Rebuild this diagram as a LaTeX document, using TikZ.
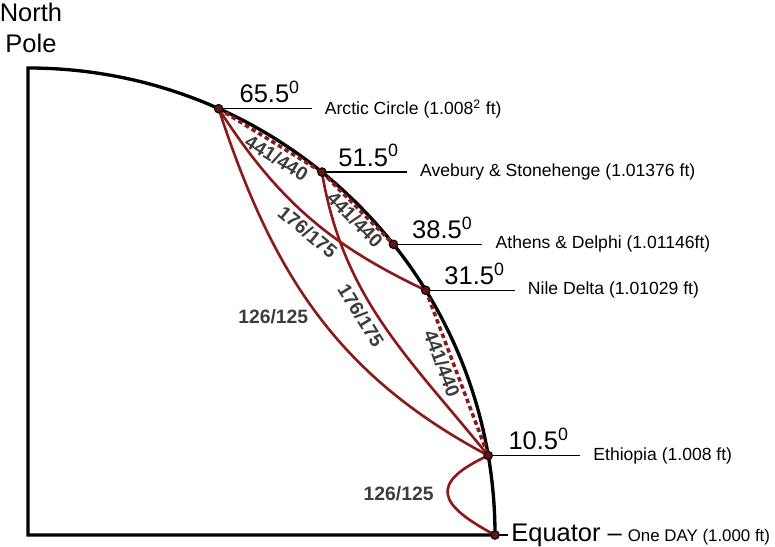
\documentclass[tikz,border=0pt]{standalone}
\usepackage{fontspec}
\setmainfont{Liberation Sans}
\definecolor{curvered}{RGB}{139,26,26}
\definecolor{ratiogray}{RGB}{60,60,60}
\tikzset{
	quadrant/.style={line width=1.9pt},
	ratiocurve/.style={curvered, line width=1.5pt},
	ratiodash/.style={curvered, line width=2pt, dash pattern=on 2.6pt off 1.8pt},
	latline/.style={line width=0.85pt},
	citydot/.style={circle, draw=black, fill=curvered!75!black, line width=0.6pt, minimum size=0.17cm, inner sep=0pt},
	bigtext/.style={font=\fontsize{14.5}{17.2}\selectfont},
	degtext/.style={bigtext, inner sep=0pt, above=2.8pt},
	placetext/.style={font=\fontsize{10}{12}\selectfont, right=4pt},
	ratiolabel/.style={text=ratiogray, font=\fontsize{11}{13}\bfseries\selectfont}
}
\begin{document}
\begin{tikzpicture}
	\def\r{9.34}
	\useasboundingbox (-0.56,-0.24) rectangle (14.94,10.70);
	
	%Quadrant of the earth
	\coordinate (O) at (0,0);
	\coordinate (Pole) at (90:\r);
	\coordinate (Eq) at (0:\r);
	\draw[quadrant] (O) -- (Pole) arc (90:0:\r) -- cycle;
	\node[bigtext, align=center, anchor=north, inner sep=0pt] (NP) at (0.06,10.64) {North\\Pole};
	
	%Latitudes
	\coordinate (P655) at (65.9:\r);
	\coordinate (P515) at (51:\r);
	\coordinate (P385) at (38.5:\r);
	\coordinate (P315) at (31.6:\r);
	\coordinate (P105) at (9.8:\r);
	
	%441/440
	\draw[ratiodash] (P655) -- node[ratiolabel, sloped, pos=0.62, inner sep=1.5pt, below] {441/440} (P515);
	\draw[ratiodash] (P515) -- node[ratiolabel, sloped, pos=0.56, inner sep=0.5pt, below] {441/440} (P385);
	\draw[ratiodash] (P315) -- node[ratiolabel, sloped, pos=0.42, inner sep=1pt, below] {441/440} (P105);
	
	%176/175
	\draw[ratiocurve] (P655) to[bend right=16] node[ratiolabel, sloped, pos=0.54, inner sep=2pt, below] {176/175} (P315);
	\draw[ratiocurve] (P515) to[out=-80.4, in=129] node[ratiolabel, sloped, pos=0.44, inner sep=3pt, below] {176/175} (P105);
	
	%126/125
	\draw[ratiocurve] (P655) to[out=-72, in=152] node[ratiolabel, pos=0.51, left=2pt] {126/125} (P105);
	\draw[ratiocurve] (P105) to[out=205, in=152, looseness=2.1] node[ratiolabel, left=4pt] {126/125} (Eq);
	
	%Arctic Circle
	\draw[latline] (P655) -- ++(1.86,0) node[degtext, pos=0.55] {65.5\textsuperscript{0}} coordinate (L655);
	\node[placetext] (T655) at (L655) {Arctic Circle (1.008\textsuperscript{2} ft)};
	
	%Avebury & Stonehenge
	\draw[latline] (P515) -- ++(1.70,0) node[degtext, pos=0.55] {51.5\textsuperscript{0}} coordinate (L515);
	\node[placetext] (T515) at (L515) {Avebury \& Stonehenge (1.01376 ft)};
	
	%Athens & Delphi
	\draw[latline] (P385) -- ++(1.78,0) node[degtext, pos=0.55] {38.5\textsuperscript{0}} coordinate (L385);
	\node[placetext] (T385) at (L385) {Athens \& Delphi (1.01146ft)};
	
	%Nile Delta
	\draw[latline] (P315) -- ++(1.78,0) node[degtext, pos=0.55] {31.5\textsuperscript{0}} coordinate (L315);
	\node[placetext] (T315) at (L315) {Nile Delta (1.01029 ft)};
	
	%Ethiopia
	\draw[latline] (P105) -- ++(1.84,0) node[degtext, pos=0.55] {10.5\textsuperscript{0}} coordinate (L105);
	\node[placetext, right=0pt] (T105) at (L105) {Ethiopia (1.008 ft)};
	
	%Equator
	\draw[latline] (Eq) -- ++(0.25,0) coordinate (LEq);
	\node[bigtext, anchor=west, inner sep=2pt] (TEq) at (LEq) {Equator –};
	\node[font=\fontsize{9.6}{11.5}\selectfont, anchor=base west, inner sep=1pt] (TDay) at (TEq.base east) {One DAY (1.000 ft)};
	
	%Dots
	\node[citydot] (D655) at (P655) {};
	\node[citydot] (D515) at (P515) {};
	\node[citydot] (D385) at (P385) {};
	\node[citydot] (D315) at (P315) {};
	\node[citydot] (D105) at (P105) {};
	\node[citydot] (DEq) at (Eq) {};
	
\end{tikzpicture}
\end{document}
